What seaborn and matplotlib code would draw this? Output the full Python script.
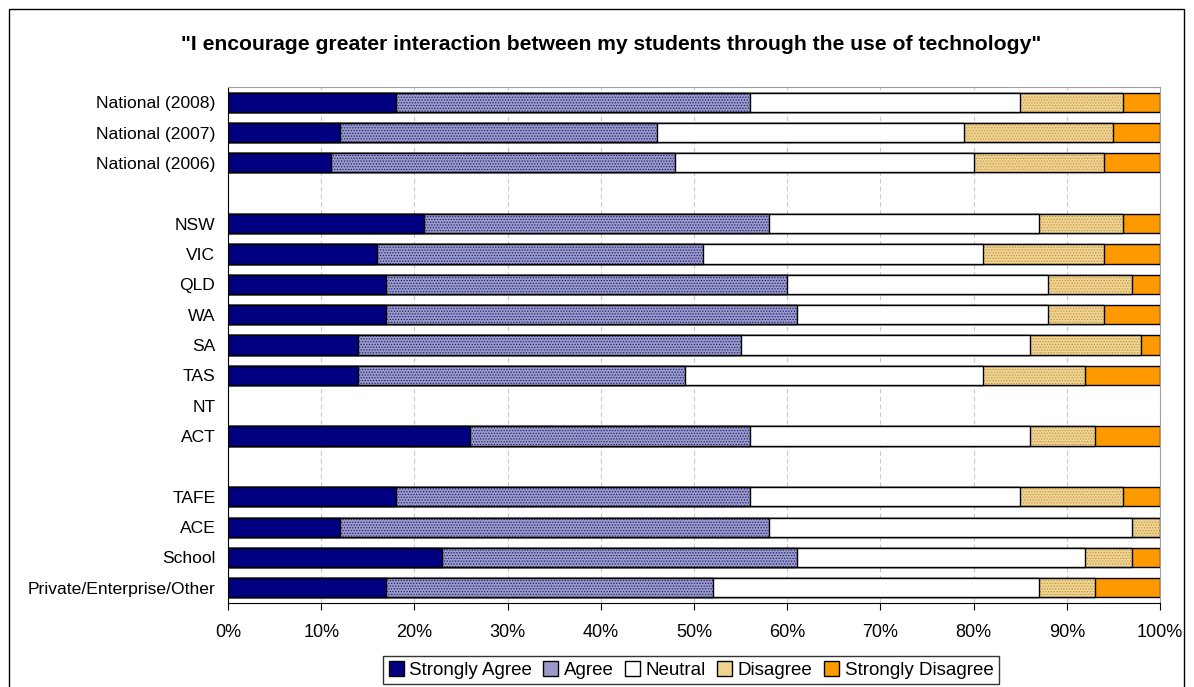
import matplotlib
matplotlib.use("Agg")
import matplotlib.pyplot as plt
import seaborn as sns
import pandas as pd
import numpy as np
from matplotlib.patches import Rectangle, Patch

categories = ["National (2008)", "National (2007)", "National (2006)", " ",
              "NSW", "VIC", "QLD", "WA", "SA", "TAS", "NT", "ACT", "  ",
              "TAFE", "ACE", "School", "Private/Enterprise/Other"]
data_cats = ["National (2008)", "National (2007)", "National (2006)",
             "NSW", "VIC", "QLD", "WA", "SA", "TAS", "ACT",
             "TAFE", "ACE", "School", "Private/Enterprise/Other"]
strongly_agree = [18, 12, 11, 21, 16, 17, 17, 14, 14, 26, 18, 12, 23, 17]
agree = [38, 34, 37, 37, 35, 43, 44, 41, 35, 30, 38, 46, 38, 35]
neutral = [29, 33, 32, 29, 30, 28, 27, 31, 32, 30, 29, 39, 31, 35]
disagree = [11, 16, 14, 9, 13, 9, 6, 12, 11, 7, 11, 3, 5, 6]
strongly_disagree = [4, 5, 6, 4, 6, 3, 6, 2, 8, 7, 4, 0, 3, 7]

series_names = ["Strongly Agree", "Agree", "Neutral", "Disagree", "Strongly Disagree"]
series = [strongly_agree, agree, neutral, disagree, strongly_disagree]
colors = ["#000080", "#9a9ac8", "#ffffff", "#f0d490", "#ff9900"]
hatches = [None, "......", None, "......", None]
hatch_colors = ["black", "#202078", "black", "#c09850", "black"]

plt.rcParams['font.family'] = ['Liberation Sans', 'DejaVu Sans']
plt.rcParams['hatch.linewidth'] = 0.6
fig = plt.figure(figsize=(11.94, 6.87), dpi=100)
ax = fig.add_axes([228/1194, 1-603/687, (1160-228)/1194, (603-87)/687])

cum = np.cumsum(np.array(series, dtype=float), axis=0)
for i in range(len(series) - 1, -1, -1):
    df = pd.DataFrame({"cat": data_cats, "val": cum[i]})
    sns.barplot(data=df, y="cat", x="val", order=categories, orient="h",
                color=colors[i], ax=ax, width=0.63, linewidth=0,
                saturation=1)
    if hatches[i]:
        for p in ax.patches[-len(data_cats):]:
            p.set_hatch(hatches[i])
            p.set_edgecolor(hatch_colors[i])
    # black outlines
    sns.barplot(data=df, y="cat", x="val", order=categories, orient="h",
                color="black", fill=False, ax=ax, width=0.63, linewidth=1.0)
    for p in ax.patches[-len(data_cats):]:
        p.set_edgecolor("black")
        p.set_facecolor("none")

ax.set_xlim(0, 100)
ax.set_xticks(np.arange(0, 101, 10))
ax.set_xticklabels([f"{v}%" for v in range(0, 101, 10)], fontsize=13)
ax.tick_params(axis='y', length=0, labelsize=12.6, pad=9)
ax.tick_params(axis='x', direction='out', length=5, pad=10, color='black')
ax.set_xlabel("")
ax.set_ylabel("")
ax.xaxis.grid(True, linestyle=(0, (4, 3)), color="#c8c8c8", linewidth=0.8)
ax.set_axisbelow(True)
for s in ["top", "right"]:
    ax.spines[s].set_color("#a0a0a0")
for s in ["left", "bottom"]:
    ax.spines[s].set_color("black")

fig.text(611/1194, 1-45/687, '"I encourage greater interaction between my students through the use of technology"',
         ha="center", va="center", fontsize=15.2, fontweight="bold")

handles = [Patch(facecolor=c, edgecolor="black", linewidth=1.0) for c in colors]
leg = fig.legend(handles, series_names, loc="center", bbox_to_anchor=(691/1194, 1-670/687),
                 ncol=5, frameon=True, fontsize=13.5, handlelength=0.8, handleheight=0.8,
                 handletextpad=0.3, columnspacing=0.6, borderpad=0.3, fancybox=False,
                 edgecolor="black")
leg.get_frame().set_linewidth(1.0)

fig.patches.append(Rectangle((9/1194, -0.05), (1184-9)/1194, 1.05-9/687,
                             transform=fig.transFigure, fill=False, edgecolor="black",
                             linewidth=1.0))
fig.savefig("out.png", dpi=100)
